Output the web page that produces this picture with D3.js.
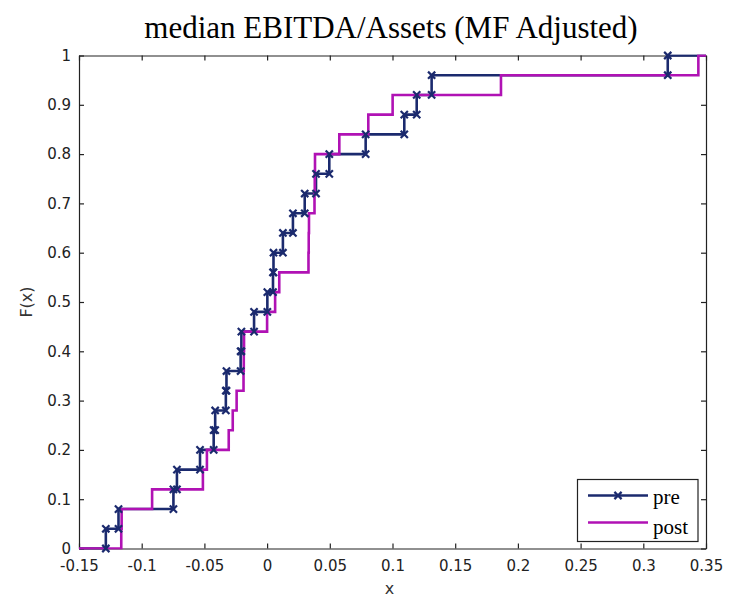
<!DOCTYPE html>
<html>
<head>
<meta charset="utf-8">
<script src="https://cdn.jsdelivr.net/npm/d3@7"></script>
<style>
  html, body { margin: 0; padding: 0; background: #fff; }
  svg { display: block; }
</style>
</head>
<body>
<svg id="chart" width="733" height="597"></svg>
<script>
// ---- data ----
const titleText = "median EBITDA/Assets (MF Adjusted)";
const xLabel = "x";
const yLabel = "F(x)";
const seriesNames = ["pre", "post"];
// sorted sample values: the ECDF steps 1/25 at each
const preValues = [-0.1286, -0.1185, -0.0747, -0.0719, -0.0535, -0.0426, -0.0414, -0.0329, -0.0324,
                   -0.0211, -0.0205, -0.0104, 0.0002, 0.0047, 0.0051, 0.0126, 0.0206, 0.0300,
                   0.0390, 0.0496, 0.0786, 0.1094, 0.1193, 0.1312, 0.3195];
const postValues = [-0.1163, -0.1160, -0.0917, -0.0512, -0.0480, -0.0306, -0.0274, -0.0243, -0.0188,
                    -0.0186, -0.0184, 0.0000, 0.0064, 0.0097, 0.0330, 0.0332, 0.0334, 0.0378,
                    0.0380, 0.0382, 0.0576, 0.0807, 0.1001, 0.1865, 0.3439];
const xTicks = [-0.15, -0.1, -0.05, 0, 0.05, 0.1, 0.15, 0.2, 0.25, 0.3, 0.35];
const xTickLabels = ["-0.15", "-0.1", "-0.05", "0", "0.05", "0.1", "0.15", "0.2", "0.25", "0.3", "0.35"];
const yTicks = [0, 0.1, 0.2, 0.3, 0.4, 0.5, 0.6, 0.7, 0.8, 0.9, 1];
const yTickLabels = ["0", "0.1", "0.2", "0.3", "0.4", "0.5", "0.6", "0.7", "0.8", "0.9", "1"];
const xDomain = [-0.15, 0.35];
const yDomain = [0, 1];

// ---- layout ----
const L = 79, R = 706, T = 55.5, B = 548.5;
const colors = { pre: "#1b2a6e", post: "#b012b4" };

const svg = d3.select("#chart");
const x = d3.scaleLinear().domain(xDomain).range([L, R]);
const y = d3.scaleLinear().domain(yDomain).range([B, T]);

svg.append("defs").append("clipPath").attr("id", "clip")
  .append("rect").attr("x", L).attr("y", T - 1).attr("width", R - L).attr("height", B - T + 2);

// title
svg.append("text")
  .attr("x", 391).attr("y", 38)
  .attr("text-anchor", "middle")
  .attr("font-family", "'Liberation Serif', 'Times New Roman', serif")
  .attr("font-size", 31)
  .attr("fill", "#000")
  .text(titleText);

// axes (MATLAB-like: ticks inward, box)
const tickFont = "'DejaVu Sans', sans-serif";
const xAxisB = d3.axisBottom(x).tickValues(xTicks).tickSizeInner(-5).tickSizeOuter(0)
  .tickFormat((d, i) => xTickLabels[i]).tickPadding(11.5);
const xAxisT = d3.axisTop(x).tickValues(xTicks).tickSizeInner(-5).tickSizeOuter(0).tickFormat("");
const yAxisL = d3.axisLeft(y).tickValues(yTicks).tickSizeInner(-5).tickSizeOuter(0)
  .tickFormat((d, i) => yTickLabels[i]).tickPadding(8);
const yAxisR = d3.axisRight(y).tickValues(yTicks).tickSizeInner(-5).tickSizeOuter(0).tickFormat("");

function styleAxis(g) {
  g.select(".domain").attr("stroke", "#222").attr("stroke-width", 1.2);
  g.selectAll(".tick line").attr("stroke", "#222").attr("stroke-width", 1.2);
  g.selectAll(".tick text").attr("font-family", tickFont).attr("font-size", 15).attr("fill", "#222");
}
svg.append("g").attr("transform", `translate(0,${B})`).call(xAxisB).call(styleAxis);
svg.append("g").attr("transform", `translate(0,${T})`).call(xAxisT).call(styleAxis);
svg.append("g").attr("transform", `translate(${L},0)`).call(yAxisL).call(styleAxis);
svg.append("g").attr("transform", `translate(${R},0)`).call(yAxisR).call(styleAxis);

// axis labels
svg.append("text")
  .attr("x", (L + R) / 2 - 3).attr("y", 594)
  .attr("text-anchor", "middle")
  .attr("font-family", tickFont).attr("font-size", 16).attr("fill", "#333")
  .text(xLabel);
svg.append("text")
  .attr("transform", `translate(32,${(T + B) / 2}) rotate(-90)`)
  .attr("text-anchor", "middle")
  .attr("font-family", tickFont).attr("font-size", 16).attr("fill", "#333")
  .text(yLabel);

// ECDF stairs
function stairPoints(vals) {
  const n = vals.length;
  const pts = [[xDomain[0], 0]];
  vals.forEach((v, i) => { pts.push([v, i / n]); pts.push([v, (i + 1) / n]); });
  pts.push([xDomain[1], 1]);
  return pts;
}
function vertexPoints(vals) {
  const n = vals.length;
  const pts = [];
  vals.forEach((v, i) => { pts.push([v, i / n]); pts.push([v, (i + 1) / n]); });
  return pts;
}
const line = d3.line().x(d => x(d[0])).y(d => y(d[1]));

const plot = svg.append("g").attr("clip-path", "url(#clip)");
plot.append("path").datum(stairPoints(preValues))
  .attr("d", line).attr("fill", "none").attr("stroke", colors.pre)
  .attr("stroke-width", 2.6).attr("stroke-linejoin", "miter");
plot.append("path").datum(stairPoints(postValues))
  .attr("d", line).attr("fill", "none").attr("stroke", colors.post)
  .attr("stroke-width", 2.6).attr("stroke-linejoin", "miter");

// x markers for pre
const ms = 3.6;
function xMarker(g, cx, cy, color) {
  g.append("path")
    .attr("d", `M${cx - ms},${cy - ms}L${cx + ms},${cy + ms}M${cx - ms},${cy + ms}L${cx + ms},${cy - ms}`)
    .attr("stroke", color).attr("stroke-width", 2.2).attr("fill", "none");
}
const markerG = svg.append("g");
vertexPoints(preValues).forEach(p => xMarker(markerG, x(p[0]), y(p[1]), colors.pre));

// legend
const lg = svg.append("g");
lg.append("rect").attr("x", 577.5).attr("y", 479.5).attr("width", 120.5).attr("height", 62)
  .attr("fill", "#fff").attr("stroke", "#222").attr("stroke-width", 1.2);
const legendRows = [
  { name: seriesNames[0], color: colors.pre, ly: 495.5, ty: 504, marker: true },
  { name: seriesNames[1], color: colors.post, ly: 522.5, ty: 534, marker: false }
];
legendRows.forEach(r => {
  lg.append("line").attr("x1", 588).attr("x2", 648).attr("y1", r.ly).attr("y2", r.ly)
    .attr("stroke", r.color).attr("stroke-width", 2.6);
  if (r.marker) xMarker(lg, 618, r.ly, r.color);
  lg.append("text").attr("x", 653).attr("y", r.ty)
    .attr("font-family", "'Liberation Serif', 'Times New Roman', serif")
    .attr("font-size", 21).attr("fill", "#000").text(r.name);
});
</script>
</body>
</html>
